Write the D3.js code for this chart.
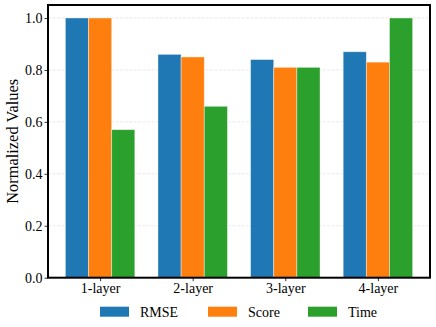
<!DOCTYPE html>
<html>
<head>
<meta charset="utf-8">
<script src="https://cdn.jsdelivr.net/npm/d3@7"></script>
<style>
body { margin: 0; background: #fff; }
text { font-family: "Liberation Serif", "DejaVu Serif", serif; fill: #000; }
</style>
</head>
<body>
<script>
var categories = ['1-layer', '2-layer', '3-layer', '4-layer'];
var seriesNames = ['RMSE', 'Score', 'Time'];
var rmse = [1.0, 0.86, 0.84, 0.87];
var score = [1.0, 0.85, 0.81, 0.83];
var time = [0.57, 0.66, 0.81, 1.0];
var yTicks = [0.0, 0.2, 0.4, 0.6, 0.8, 1.0];
var colors = ['#1f77b4', '#ff7f0e', '#2ca02c'];

var series = [rmse, score, time];
var W = 436, H = 327;
var mLeft = 48, mRight = 430, mTop = 5, mBottom = 277.7;
var barW = 0.25;
var serif = '"Liberation Serif", "DejaVu Serif", serif';

var svg = d3.select('body').append('svg').attr('width', W).attr('height', H);

var x = d3.scaleLinear().domain([-0.5625, 3.5625]).range([mLeft, mRight]);
var y = d3.scaleLinear().domain([0, 1.05]).range([mBottom, mTop]);

// grid
svg.append('g').selectAll('line').data(yTicks).enter().append('line')
	.attr('x1', mLeft).attr('x2', mRight)
	.attr('y1', d => y(d)).attr('y2', d => y(d))
	.attr('stroke', '#b0b0b0').attr('stroke-opacity', 0.35)
	.attr('stroke-width', 0.8).attr('stroke-dasharray', '3,1.5');

// bars
series.forEach(function(vals, s){
	svg.append('g').selectAll('rect').data(vals).enter().append('rect')
		.attr('x', (d, i) => x(i + (s - 1) * barW - barW / 2))
		.attr('width', x(barW) - x(0))
		.attr('y', d => y(d))
		.attr('height', d => y(0) - y(d))
		.attr('fill', colors[s])
		.attr('stroke', '#fff').attr('stroke-opacity', 0.5).attr('stroke-width', 0.8);
});

// axes
var yAxis = d3.axisLeft(y).tickValues(yTicks).tickFormat(d3.format('.1f')).tickSizeInner(3.5).tickSizeOuter(0).tickPadding(2);
var gy = svg.append('g').attr('transform', 'translate(' + mLeft + ',0)').call(yAxis)
	.attr('font-family', serif).attr('font-size', 14);
gy.select('.domain').remove();
gy.selectAll('text').attr('fill', '#000');
gy.selectAll('line').attr('stroke', '#000').attr('stroke-width', 0.8);

var xAxis = d3.axisBottom(x).tickValues([0, 1, 2, 3]).tickFormat((d, i) => categories[i]).tickSizeInner(3.5).tickSizeOuter(0).tickPadding(2);
var gx = svg.append('g').attr('transform', 'translate(0,' + mBottom + ')').call(xAxis)
	.attr('font-family', serif).attr('font-size', 14);
gx.select('.domain').remove();
gx.selectAll('text').attr('fill', '#000');
gx.selectAll('line').attr('stroke', '#000').attr('stroke-width', 0.8);

// frame
svg.append('rect').attr('x', mLeft).attr('y', mTop)
	.attr('width', mRight - mLeft).attr('height', mBottom - mTop)
	.attr('fill', 'none').attr('stroke', '#000').attr('stroke-width', 2);

// y label
svg.append('text')
	.attr('transform', 'translate(12.5,' + ((mTop + mBottom) / 2) + ') rotate(-90)')
	.attr('text-anchor', 'middle').attr('dy', '0.35em')
	.attr('font-family', serif).attr('font-size', 16.4)
	.text('Normalized Values');

// legend
var legX = [100, 208, 308];
var leg = svg.append('g').selectAll('g').data(seriesNames).enter().append('g')
	.attr('transform', (d, i) => 'translate(' + legX[i] + ',306.7)');
leg.append('rect').attr('width', 29).attr('height', 10).attr('fill', (d, i) => colors[i]);
leg.append('text').attr('x', 40).attr('y', 10)
	.attr('font-family', serif).attr('font-size', 14).text(d => d);
</script>
</body>
</html>
